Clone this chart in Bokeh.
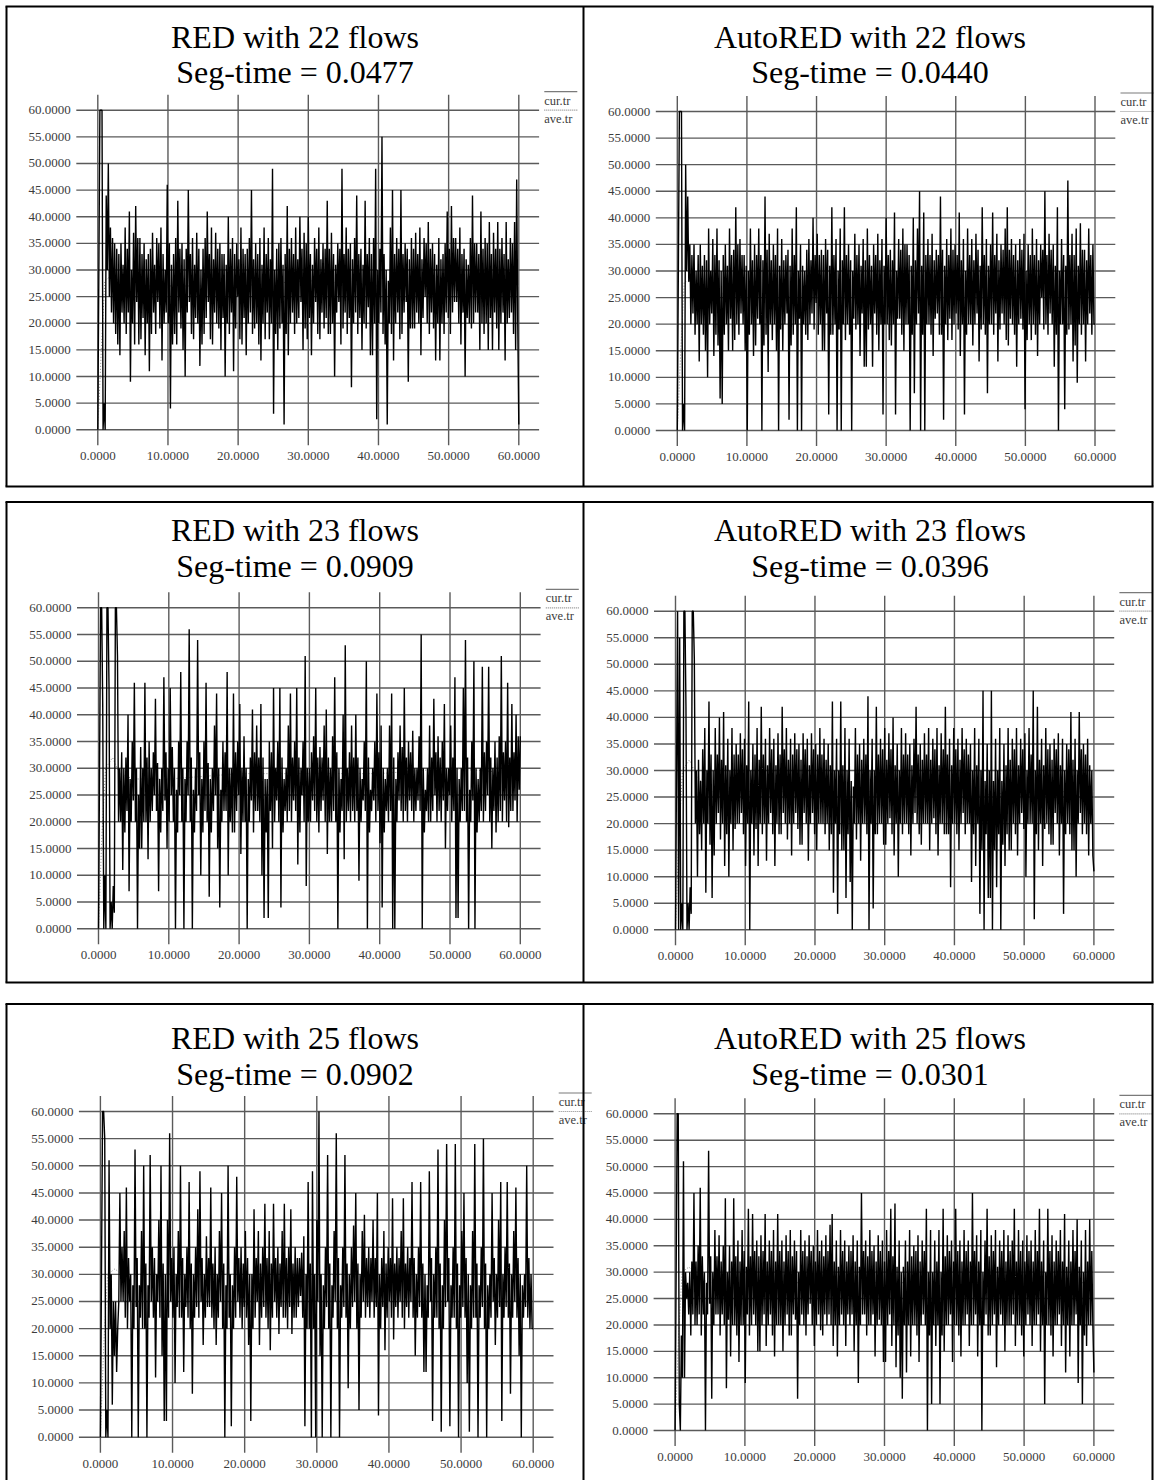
from bokeh.plotting import figure
from bokeh.models import Range1d
from bokeh.core.properties import value
from bokeh.embed import file_html
from bokeh.resources import INLINE

# ---------------- data ----------------
x_ticks = [0, 10, 20, 30, 40, 50, 60]
x_tick_labels = ["0.0000", "10.0000", "20.0000", "30.0000", "40.0000", "50.0000", "60.0000"]
y_ticks = [0, 5, 10, 15, 20, 25, 30, 35, 40, 45, 50, 55, 60]
y_tick_labels = ["0.0000", "5.0000", "10.0000", "15.0000", "20.0000", "25.0000", "30.0000",
                 "35.0000", "40.0000", "45.0000", "50.0000", "55.0000", "60.0000"]
legend_labels = ["cur.tr", "ave.tr"]

titles = ["RED with 22 flows", "AutoRED with 22 flows",
          "RED with 23 flows", "AutoRED with 23 flows",
          "RED with 25 flows", "AutoRED with 25 flows"]
seg_times = ["Seg-time = 0.0477", "Seg-time = 0.0440",
             "Seg-time = 0.0909", "Seg-time = 0.0396",
             "Seg-time = 0.0902", "Seg-time = 0.0301"]

# cur.tr : instantaneous queue length (packets).
# "_a" = samples at 0, 0.3, 0.6 ... 60 s (mostly the upper swings),
# "_b" = samples half way between them, 0.15, 0.45 ... 59.85 s (mostly the lower swings)
red22_cur_a = [0, 60, 60, 5, 44, 50, 38, 36, 35, 34,
               33, 35, 31, 38, 34, 41, 30, 37, 42, 36,
               36, 33, 35, 32, 33, 34, 37, 31, 36, 35,
               38, 33, 30, 46, 35, 31, 33, 36, 43, 34,
               35, 32, 34, 45, 33, 36, 31, 37, 34, 30,
               34, 36, 41, 33, 38, 32, 37, 34, 35, 33,
               33, 31, 40, 34, 36, 33, 35, 32, 38, 34,
               33, 34, 36, 45, 32, 35, 33, 36, 31, 38,
               33, 36, 32, 49, 30, 34, 35, 36, 31, 33,
               42, 34, 36, 33, 38, 32, 40, 34, 37, 35,
               40, 33, 31, 36, 34, 38, 32, 35, 34, 43,
               34, 37, 33, 31, 35, 34, 49, 33, 38, 34,
               35, 32, 36, 44, 33, 34, 31, 43, 33, 36,
               33, 36, 49, 30, 34, 55, 33, 30, 28, 38,
               45, 33, 36, 34, 45, 33, 35, 34, 32, 36,
               34, 37, 33, 38, 32, 36, 35, 39, 34, 35,
               33, 31, 36, 32, 33, 35, 41, 34, 42, 36,
               36, 34, 38, 33, 34, 32, 31, 36, 44, 35,
               35, 33, 41, 34, 36, 35, 39, 33, 37, 34,
               39, 34, 36, 33, 39, 32, 36, 35, 39, 47,
               1]
red22_cur_b = [30, 60, 0, 0, 30, 25, 22, 20, 18, 16,
               14, 22, 20, 18, 22, 9, 20, 16, 24, 16,
               17, 21, 14, 20, 11, 18, 22, 18, 24, 19,
               13, 20, 22, 20, 4, 16, 18, 16, 22, 19,
               15, 10, 22, 24, 18, 17, 21, 20, 12, 16,
               18, 21, 24, 17, 16, 22, 20, 19, 15, 21,
               10, 20, 18, 22, 11, 19, 25, 17, 16, 21,
               14, 20, 22, 18, 19, 20, 16, 13, 20, 17,
               22, 17, 20, 3, 18, 15, 19, 20, 1, 18,
               14, 20, 22, 18, 20, 21, 24, 15, 19, 17,
               21, 14, 20, 24, 18, 17, 22, 19, 21, 18,
               18, 20, 10, 22, 24, 16, 19, 22, 18, 21,
               8, 20, 22, 18, 21, 15, 20, 19, 23, 14,
               14, 20, 2, 20, 22, 18, 16, 1, 20, 18,
               13, 20, 22, 17, 18, 22, 24, 9, 19, 19,
               19, 22, 20, 14, 21, 25, 20, 18, 22, 19,
               13, 20, 13, 20, 18, 22, 21, 18, 22, 24,
               24, 20, 16, 22, 10, 21, 20, 19, 20, 22,
               22, 15, 20, 18, 20, 15, 21, 15, 22, 19,
               15, 20, 22, 13, 20, 21, 22, 18, 15, 20]

autored22_cur_a = [0, 60, 60, 5, 50, 44, 35, 33, 35, 30,
                   33, 35, 31, 33, 32, 38, 30, 36, 33, 38,
                   32, 30, 33, 35, 31, 38, 33, 34, 42, 35,
                   36, 33, 33, 31, 30, 38, 32, 35, 33, 38,
                   33, 32, 44, 34, 37, 32, 35, 33, 38, 31,
                   36, 32, 33, 34, 31, 38, 33, 42, 30, 35,
                   31, 30, 34, 36, 32, 40, 33, 37, 33, 34,
                   33, 36, 34, 31, 42, 33, 36, 30, 38, 32,
                   42, 33, 35, 32, 30, 37, 33, 35, 31, 36,
                   32, 38, 33, 31, 35, 33, 37, 32, 36, 31,
                   40, 33, 34, 32, 41, 30, 36, 34, 38, 35,
                   35, 33, 31, 40, 32, 38, 45, 31, 41, 33,
                   36, 33, 37, 32, 34, 33, 44, 34, 31, 36,
                   33, 38, 34, 35, 33, 41, 32, 36, 30, 38,
                   33, 36, 32, 37, 34, 31, 42, 33, 36, 31,
                   35, 41, 33, 37, 32, 35, 34, 38, 42, 34,
                   36, 33, 35, 32, 36, 34, 37, 30, 35, 33,
                   38, 33, 36, 32, 35, 34, 45, 33, 37, 34,
                   35, 31, 42, 30, 36, 33, 31, 47, 33, 37,
                   33, 38, 31, 39, 34, 34, 32, 38, 33, 35,
                   20]
autored22_cur_b = [30, 60, 0, 0, 30, 28, 20, 22, 18, 20,
                   13, 20, 18, 15, 10, 20, 22, 14, 18, 16,
                   6, 5, 18, 20, 15, 21, 15, 17, 20, 18,
                   22, 20, 15, 0, 18, 20, 14, 16, 21, 20,
                   0, 16, 18, 11, 20, 17, 20, 15, 0, 19,
                   15, 20, 22, 2, 16, 18, 20, 0, 21, 0,
                   20, 18, 17, 20, 22, 19, 24, 18, 20, 15,
                   15, 22, 3, 18, 18, 20, 0, 19, 0, 20,
                   17, 20, 18, 0, 21, 19, 20, 14, 22, 12,
                   12, 19, 20, 12, 22, 18, 15, 20, 3, 20,
                   20, 17, 16, 20, 3, 21, 21, 18, 15, 20,
                   20, 0, 18, 7, 20, 22, 0, 18, 0, 20,
                   20, 18, 14, 21, 22, 18, 18, 2, 20, 17,
                   21, 17, 20, 22, 19, 14, 20, 3, 18, 20,
                   20, 16, 20, 22, 13, 19, 20, 18, 7, 20,
                   20, 18, 22, 13, 19, 22, 20, 17, 16, 21,
                   20, 18, 12, 20, 21, 19, 4, 17, 20, 17,
                   20, 18, 14, 20, 25, 19, 20, 18, 22, 20,
                   12, 18, 0, 20, 20, 4, 18, 19, 20, 13,
                   16, 9, 20, 18, 20, 13, 20, 22, 18, 20]

red23_cur_a = [0, 60, 42, 10, 60, 45, 5, 8, 60, 51,
               30, 33, 30, 32, 40, 28, 35, 46, 30, 25,
               34, 30, 46, 32, 35, 30, 33, 43, 31, 28,
               30, 47, 33, 30, 45, 34, 30, 26, 35, 48,
               30, 28, 35, 56, 32, 26, 30, 54, 33, 28,
               35, 46, 31, 28, 30, 38, 44, 30, 26, 35,
               33, 48, 30, 30, 44, 33, 35, 42, 30, 36,
               30, 28, 32, 41, 33, 38, 32, 42, 32, 28,
               28, 35, 33, 45, 30, 35, 45, 32, 28, 30,
               38, 44, 32, 35, 45, 32, 30, 35, 51, 30,
               30, 33, 36, 45, 32, 34, 32, 38, 41, 32,
               30, 36, 47, 33, 30, 28, 40, 53, 30, 33,
               38, 32, 40, 32, 30, 28, 35, 50, 32, 26,
               30, 35, 44, 33, 38, 30, 28, 30, 38, 44,
               32, 28, 33, 38, 34, 45, 32, 35, 33, 37,
               30, 30, 36, 55, 30, 26, 30, 38, 32, 43,
               33, 36, 32, 35, 42, 30, 30, 38, 32, 47,
               30, 28, 30, 45, 54, 32, 26, 35, 50, 30,
               28, 30, 49, 33, 35, 49, 32, 30, 35, 32,
               36, 51, 33, 35, 46, 32, 42, 33, 40, 36,
               36]
red23_cur_b = [30, 60, 0, 0, 60, 0, 0, 3, 60, 20,
               20, 11, 18, 22, 7, 20, 24, 20, 0, 15,
               15, 20, 20, 13, 20, 22, 25, 22, 7, 18,
               22, 24, 15, 20, 25, 20, 0, 18, 25, 20,
               0, 20, 25, 20, 0, 18, 22, 25, 10, 18,
               22, 20, 6, 18, 22, 25, 15, 4, 20, 22,
               22, 10, 20, 18, 18, 22, 25, 14, 20, 20,
               0, 20, 24, 18, 22, 22, 20, 10, 2, 18,
               2, 22, 15, 20, 24, 20, 4, 18, 22, 20,
               22, 20, 24, 22, 12, 18, 25, 20, 8, 20,
               20, 24, 22, 20, 18, 22, 24, 20, 14, 20,
               20, 22, 20, 0, 18, 22, 13, 20, 22, 20,
               22, 20, 22, 9, 20, 24, 22, 0, 18, 22,
               24, 20, 22, 16, 4, 18, 22, 20, 22, 0,
               0, 20, 24, 22, 20, 22, 20, 24, 22, 20,
               22, 24, 22, 0, 18, 22, 20, 20, 22, 25,
               20, 22, 20, 24, 15, 22, 25, 20, 22, 2,
               2, 20, 22, 22, 20, 0, 20, 24, 0, 18,
               20, 22, 20, 22, 25, 20, 15, 22, 18, 20,
               22, 20, 24, 20, 19, 22, 22, 24, 20, 26]

autored23_cur_a = [0, 60, 55, 5, 60, 42, 5, 8, 60, 51,
                   30, 32, 28, 34, 38, 30, 43, 33, 30, 38,
                   33, 40, 32, 41, 31, 36, 30, 38, 33, 35,
                   33, 37, 34, 36, 31, 43, 30, 35, 33, 38,
                   32, 42, 33, 36, 31, 38, 34, 36, 31, 37,
                   33, 42, 34, 38, 32, 36, 33, 37, 34, 35,
                   32, 37, 34, 36, 31, 37, 34, 35, 33, 38,
                   33, 36, 32, 35, 31, 43, 30, 36, 30, 43,
                   31, 38, 30, 36, 28, 27, 38, 33, 35, 32,
                   36, 33, 44, 30, 36, 30, 42, 33, 36, 34,
                   38, 32, 37, 34, 40, 31, 35, 30, 38, 33,
                   37, 33, 35, 31, 36, 42, 33, 35, 32, 37,
                   33, 38, 32, 36, 34, 38, 31, 37, 34, 42,
                   33, 36, 31, 38, 34, 36, 32, 38, 34, 36,
                   33, 35, 30, 38, 31, 36, 30, 45, 28, 35,
                   30, 45, 28, 36, 30, 38, 28, 35, 31, 38,
                   32, 36, 34, 38, 31, 36, 34, 37, 30, 38,
                   33, 45, 30, 42, 32, 36, 31, 38, 34, 35,
                   32, 36, 34, 37, 31, 36, 30, 35, 34, 41,
                   32, 36, 30, 41, 34, 35, 33, 36, 31, 30,
                   11]
autored23_cur_b = [30, 0, 0, 0, 60, 0, 0, 3, 60, 20,
                   10, 18, 15, 20, 7, 20, 16, 6, 14, 20,
                   22, 17, 20, 12, 18, 10, 20, 15, 19, 20,
                   20, 22, 18, 12, 20, 0, 20, 14, 19, 12,
                   20, 18, 20, 13, 20, 22, 18, 12, 20, 18,
                   18, 22, 20, 17, 20, 14, 20, 22, 19, 16,
                   16, 22, 20, 13, 20, 22, 18, 15, 20, 20,
                   20, 18, 20, 15, 18, 7, 20, 3, 18, 15,
                   15, 6, 18, 9, 0, 20, 17, 20, 13, 20,
                   20, 18, 0, 20, 4, 18, 18, 20, 20, 16,
                   16, 20, 21, 18, 14, 20, 10, 20, 18, 20,
                   20, 18, 14, 20, 22, 20, 18, 16, 20, 20,
                   20, 15, 20, 21, 18, 14, 20, 20, 18, 18,
                   18, 8, 20, 20, 18, 15, 20, 22, 18, 20,
                   20, 9, 18, 12, 20, 3, 15, 0, 18, 6,
                   6, 0, 15, 8, 18, 0, 16, 12, 18, 15,
                   15, 20, 18, 14, 20, 22, 19, 10, 20, 20,
                   20, 2, 18, 15, 20, 12, 19, 20, 18, 16,
                   16, 22, 20, 14, 20, 3, 18, 20, 18, 15,
                   15, 10, 20, 22, 18, 20, 18, 14, 20, 14]

red25_cur_a = [0, 60, 55, 5, 51, 30, 25, 25, 20, 45,
               35, 38, 46, 33, 30, 28, 53, 33, 28, 38,
               50, 32, 28, 52, 35, 33, 30, 40, 50, 32,
               30, 40, 56, 33, 35, 30, 38, 50, 33, 30,
               35, 47, 32, 30, 35, 42, 49, 33, 30, 37,
               33, 46, 32, 35, 30, 38, 45, 32, 28, 50,
               30, 28, 35, 48, 33, 35, 32, 38, 33, 30,
               30, 42, 33, 38, 32, 35, 43, 33, 38, 32,
               43, 33, 35, 32, 38, 43, 33, 35, 42, 32,
               35, 33, 33, 34, 37, 30, 47, 32, 49, 30,
               40, 60, 30, 28, 35, 52, 32, 28, 38, 56,
               33, 28, 35, 52, 32, 30, 35, 39, 45, 32,
               30, 38, 41, 33, 35, 33, 40, 33, 45, 30,
               33, 38, 32, 35, 33, 44, 32, 35, 33, 38,
               44, 32, 35, 33, 47, 33, 30, 35, 47, 32,
               30, 28, 49, 33, 30, 35, 53, 32, 28, 40,
               54, 33, 28, 35, 54, 32, 28, 38, 45, 33,
               30, 28, 38, 54, 32, 28, 35, 55, 32, 28,
               30, 45, 33, 30, 40, 47, 30, 35, 47, 32,
               30, 38, 46, 33, 30, 28, 30, 50, 33, 30,
               20]
red25_cur_b = [30, 60, 0, 0, 20, 6, 15, 12, 25, 25,
               25, 22, 20, 25, 0, 20, 24, 0, 22, 20,
               20, 0, 22, 25, 22, 11, 25, 22, 15, 3,
               3, 22, 25, 22, 10, 24, 22, 22, 12, 24,
               22, 20, 8, 22, 24, 22, 25, 17, 22, 24,
               24, 22, 20, 17, 22, 25, 20, 0, 20, 22,
               2, 20, 22, 25, 22, 20, 24, 22, 17, 3,
               20, 22, 25, 17, 22, 24, 22, 20, 16, 22,
               25, 22, 19, 24, 22, 22, 20, 24, 19, 22,
               22, 24, 26, 22, 2, 20, 20, 0, 20, 0,
               25, 15, 0, 20, 24, 20, 0, 22, 25, 20,
               0, 22, 24, 22, 9, 20, 24, 25, 20, 5,
               22, 25, 22, 24, 22, 25, 22, 24, 4, 20,
               24, 16, 22, 25, 22, 18, 24, 22, 25, 22,
               20, 24, 22, 25, 22, 15, 22, 24, 22, 12,
               12, 22, 25, 3, 22, 22, 20, 1, 20, 24,
               25, 2, 22, 22, 20, 0, 22, 24, 22, 10,
               1, 20, 22, 22, 0, 22, 24, 20, 0, 20,
               22, 25, 17, 22, 24, 3, 22, 24, 22, 8,
               22, 25, 22, 15, 0, 22, 24, 22, 20, 20]

autored25_cur_a = [0, 60, 5, 18, 51, 30, 28, 30, 32, 45,
                   32, 35, 46, 33, 30, 28, 53, 33, 30, 38,
                   33, 37, 32, 35, 44, 30, 35, 32, 44, 33,
                   36, 32, 38, 34, 31, 42, 33, 41, 34, 36,
                   33, 37, 34, 41, 32, 36, 34, 38, 32, 41,
                   34, 36, 32, 37, 34, 38, 33, 36, 34, 30,
                   38, 34, 36, 33, 37, 34, 35, 32, 38, 34,
                   36, 33, 37, 34, 39, 41, 32, 36, 31, 38,
                   34, 36, 32, 35, 34, 37, 32, 36, 31, 45,
                   34, 36, 33, 38, 34, 35, 32, 37, 34, 36,
                   32, 38, 34, 42, 33, 43, 31, 36, 30, 31,
                   36, 32, 38, 33, 35, 34, 37, 32, 36, 34,
                   42, 30, 38, 30, 36, 32, 38, 30, 42, 33,
                   37, 34, 36, 32, 42, 34, 36, 32, 38, 34,
                   36, 32, 45, 34, 37, 32, 38, 30, 36, 42,
                   33, 37, 34, 38, 31, 36, 34, 38, 32, 37,
                   34, 36, 42, 32, 38, 34, 36, 32, 37, 34,
                   36, 32, 38, 34, 42, 32, 36, 30, 42, 34,
                   37, 32, 36, 34, 38, 32, 41, 31, 36, 32,
                   38, 34, 40, 31, 36, 30, 38, 32, 40, 34,
                   11]
autored25_cur_b = [30, 60, 0, 10, 10, 25, 22, 18, 22, 20,
                   20, 22, 18, 22, 0, 22, 24, 6, 20, 22,
                   22, 18, 22, 20, 8, 21, 14, 20, 20, 18,
                   13, 20, 20, 9, 22, 18, 20, 22, 20, 15,
                   15, 20, 22, 16, 20, 22, 18, 14, 20, 20,
                   20, 15, 20, 22, 18, 18, 22, 21, 6, 20,
                   22, 20, 18, 22, 24, 20, 16, 20, 22, 19,
                   18, 22, 20, 22, 20, 16, 20, 14, 20, 22,
                   20, 16, 22, 20, 22, 15, 20, 9, 20, 22,
                   22, 18, 20, 20, 22, 14, 20, 21, 20, 13,
                   13, 20, 22, 16, 20, 12, 18, 10, 6, 20,
                   11, 20, 14, 20, 20, 18, 13, 20, 22, 20,
                   0, 18, 5, 20, 16, 20, 5, 18, 15, 20,
                   20, 22, 13, 20, 20, 18, 14, 20, 20, 22,
                   16, 20, 20, 22, 14, 20, 0, 20, 22, 18,
                   18, 20, 22, 12, 20, 22, 20, 15, 20, 20,
                   20, 22, 16, 20, 20, 18, 14, 20, 22, 20,
                   16, 20, 20, 22, 15, 20, 5, 20, 20, 18,
                   14, 20, 20, 22, 16, 20, 11, 20, 14, 20,
                   20, 22, 9, 20, 5, 18, 16, 20, 20, 20]

# ave.tr : averaged queue
ave_times = [0, 0.5, 1, 2, 3, 5, 10, 20, 30, 40, 50, 60]
red22_ave = [0, 15, 28, 29, 28, 27, 27, 27, 28, 27, 27, 27]
autored22_ave = [0, 15, 28, 28, 27, 26, 25, 25, 25, 25, 25, 25]
red23_ave = [0, 18, 30, 32, 29, 28, 28, 29, 29, 29, 30, 29]
autored23_ave = [0, 18, 30, 32, 29, 26, 26, 26, 26, 25, 26, 26]
red25_ave = [0, 18, 30, 31, 30, 30, 30, 30, 30, 30, 30, 30]
autored25_ave = [0, 18, 30, 31, 29, 28, 28, 28, 28, 28, 28, 28]

cur_series = [(red22_cur_a, red22_cur_b), (autored22_cur_a, autored22_cur_b),
              (red23_cur_a, red23_cur_b), (autored23_cur_a, autored23_cur_b),
              (red25_cur_a, red25_cur_b), (autored25_cur_a, autored25_cur_b)]
ave_series = [red22_ave, autored22_ave, red23_ave, autored23_ave, red25_ave, autored25_ave]


def sampled(a, b):
    """put the two sample lists on their time grid and merge them in time order"""
    step = 60.0 / (len(a) - 1)
    pts = [(k * step, v) for k, v in enumerate(a)] + [((k + 0.5) * step, v) for k, v in enumerate(b)]
    pts.sort()
    return [t for t, _ in pts], [v for _, v in pts]


# ---------------- layout (page pixels) ----------------
W, H = 1157, 1480
SERIF = value("Liberation Serif")

panel_px = [
    dict(x0=97.3, x60=518.3, y0=429.3, y60=109.7, tx=294.5, ty1=36.5, ty2=71.0),
    dict(x0=676.8, x60=1094.5, y0=430.0, y60=111.0, tx=869.5, ty1=36.5, ty2=71.0),
    dict(x0=98.0, x60=519.8, y0=928.3, y60=607.3, tx=294.5, ty1=529.0, ty2=565.0),
    dict(x0=675.0, x60=1093.4, y0=929.3, y60=610.7, tx=869.5, ty1=529.0, ty2=565.0),
    dict(x0=99.9, x60=532.7, y0=1436.7, y60=1111.0, tx=294.5, ty1=1037.0, ty2=1073.0),
    dict(x0=674.6, x60=1093.4, y0=1430.0, y60=1113.3, tx=869.5, ty1=1037.0, ty2=1073.0),
]

p = figure(width=W, height=H, output_backend="svg", toolbar_location=None,
           x_range=Range1d(0, W), y_range=Range1d(H, 0),
           min_border=0, min_border_left=0, min_border_right=0,
           min_border_top=0, min_border_bottom=0)
p.axis.visible = False
p.xgrid.visible = False
p.ygrid.visible = False
p.outline_line_color = None
p.background_fill_color = "white"
p.border_fill_color = "white"

GRID_COLOR = "#5a5a5a"
LABEL_COLOR = "#3c3c3c"

for i, lay in enumerate(panel_px):
    kx = (lay["x60"] - lay["x0"]) / 60.0
    ky = (lay["y0"] - lay["y60"]) / 60.0
    xs = -lay["x0"] / kx
    xe = 60.0 + (W - lay["x60"]) / kx
    ys = -(H - lay["y0"]) / ky
    ye = 60.0 + lay["y60"] / ky
    xn, yn = "px%d" % i, "py%d" % i
    p.extra_x_ranges[xn] = Range1d(xs, xe)
    p.extra_y_ranges[yn] = Range1d(ys, ye)
    kw = dict(x_range_name=xn, y_range_name=yn)

    # grid lines (reach a little past the data box, as in the xgraph original)
    ext_lo_y = -15.5 / ky
    ext_hi_y = 60 + 15.5 / ky
    ext_lo_x = -21.5 / kx
    ext_hi_x = 60 + 20.3 / kx
    p.segment(x0=x_ticks, y0=[ext_lo_y] * len(x_ticks), x1=x_ticks, y1=[ext_hi_y] * len(x_ticks),
              line_color=GRID_COLOR, line_width=1.4, **kw)
    p.segment(x0=[ext_lo_x] * len(y_ticks), y0=y_ticks, x1=[ext_hi_x] * len(y_ticks), y1=y_ticks,
              line_color=GRID_COLOR, line_width=1.4, **kw)

    # tick labels
    p.text(x=[-27.0 / kx] * len(y_ticks), y=y_ticks, text=y_tick_labels,
           text_font=SERIF, text_font_size="13px", text_color=LABEL_COLOR,
           text_align="right", text_baseline="middle", **kw)
    p.text(x=x_ticks, y=[-26.5 / ky] * len(x_ticks), text=x_tick_labels,
           text_font=SERIF, text_font_size="13px", text_color=LABEL_COLOR,
           text_align="center", text_baseline="middle", **kw)

    # series
    t_cur, v_cur = sampled(*cur_series[i])
    p.line(ave_times, ave_series[i], line_color="#8a8a8a", line_width=1, line_dash="1 2", **kw)
    p.line(t_cur, v_cur, line_color="black", line_width=1.4, **kw)

    # titles
    p.text(x=[lay["tx"]], y=[lay["ty1"]], text=[titles[i]], text_font=SERIF,
           text_font_size="32px", text_color="black", text_align="center", text_baseline="middle")
    p.text(x=[lay["tx"]], y=[lay["ty2"]], text=[seg_times[i]], text_font=SERIF,
           text_font_size="32px", text_color="black", text_align="center", text_baseline="middle")

    # legend (top right, outside the plot box)
    lx0 = lay["x60"] + 25.5
    lx1 = lay["x60"] + 58.5
    p.segment(x0=[lx0], y0=[lay["y60"] - 18.5], x1=[lx1], y1=[lay["y60"] - 18.5],
              line_color="#7a7a7a", line_width=1.2)
    p.segment(x0=[lx0], y0=[lay["y60"]], x1=[lx1], y1=[lay["y60"]],
              line_color="#8a8a8a", line_width=1.2, line_dash="1 1")
    p.text(x=[lx0, lx0], y=[lay["y60"] - 9.5, lay["y60"] + 8.5], text=legend_labels,
           text_font=SERIF, text_font_size="12.5px", text_color=LABEL_COLOR,
           text_align="left", text_baseline="middle")

# table cell borders
LEFT, MID, RIGHT = 6, 583, 1152
rows = [(6, 486), (501.5, 982), (1003.5, H + 5)]
for top, bot in rows:
    p.segment(x0=[LEFT - 1, LEFT - 1], y0=[top, bot], x1=[RIGHT + 1, RIGHT + 1], y1=[top, bot],
              line_color="black", line_width=2.2)
    p.segment(x0=[LEFT, MID, RIGHT], y0=[top] * 3, x1=[LEFT, MID, RIGHT], y1=[bot] * 3,
              line_color="black", line_width=2.0)

open("out.html", "w").write(file_html(p, INLINE))
